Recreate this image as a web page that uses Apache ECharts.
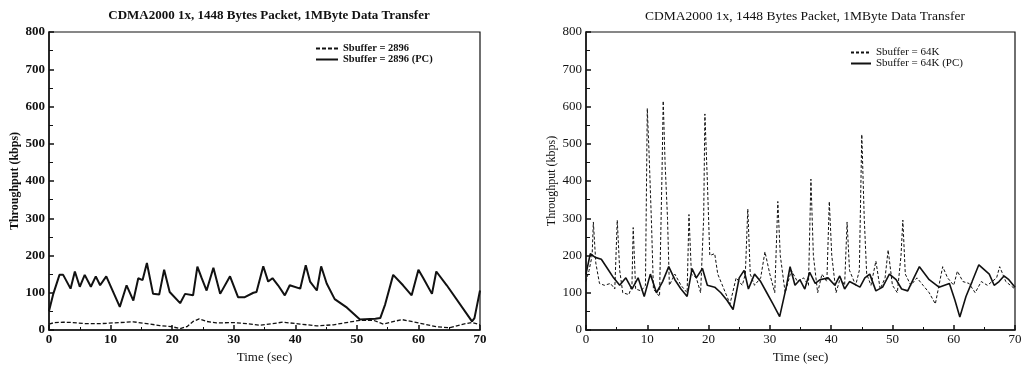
<!DOCTYPE html>
<html>
<head>
<meta charset="utf-8">
<script src="https://cdn.jsdelivr.net/npm/echarts@6/dist/echarts.min.js"></script>
<style>
  html, body { margin: 0; padding: 0; background: #fff; }
  #chart { width: 1028px; height: 369px; }
</style>
</head>
<body>
<div id="chart"></div>
<script>
const TITLE = 'CDMA2000 1x, 1448 Bytes Packet, 1MByte Data Transfer';
const X_NAME = 'Time (sec)';
const Y_NAME = 'Throughput (kbps)';
const LEFT_NAMES = ['Sbuffer = 2896', 'Sbuffer = 2896 (PC)'];
const RIGHT_NAMES = ['Sbuffer = 64K', 'Sbuffer = 64K (PC)'];

// left panel, Sbuffer = 2896 (dotted)
const leftTime = [0, 0.9, 2.3, 3.9, 6.0, 8.3, 10.5, 13.7, 15.9, 18.0, 19.9, 21.3, 22.4, 23.4, 24.4, 25.6, 27.2, 29.9, 32.1, 34.2, 35.3, 38, 40.8, 43.5, 46.2, 50.5, 52.7, 54.3, 57.3, 60, 62.9, 65.1, 67.3, 68.7, 70];
const leftKbps = [16, 20, 21, 20, 17, 17, 19, 22, 17, 12, 9, 4, 9, 23, 30, 23, 19, 20, 17, 13, 15, 21, 16, 11, 14, 26, 26, 16, 28, 19, 9, 6, 16, 20, 14];

// left panel, Sbuffer = 2896 (PC) (solid)
const leftPcTime = [0, 0.7, 1.7, 2.3, 3.5, 4.2, 5.0, 5.8, 6.8, 7.6, 8.3, 9.3, 11.5, 12.6, 13.7, 14.5, 15.2, 15.9, 16.9, 17.9, 18.7, 19.6, 21.3, 22.1, 23.4, 24.1, 24.8, 25.6, 26.7, 27.8, 29.4, 30.7, 31.8, 33.2, 33.7, 34.8, 35.6, 36.3, 37.2, 38.3, 39.1, 40.8, 41.7, 42.4, 43.5, 44.2, 45.1, 46.4, 48.4, 50.5, 53.0, 53.8, 54.6, 55.9, 57.5, 58.9, 60.0, 60.8, 62.2, 62.9, 64.6, 68.7, 69.1, 70];
const leftPcKbps = [51, 97, 148, 148, 111, 157, 116, 148, 116, 144, 120, 144, 62, 120, 79, 139, 134, 180, 97, 95, 162, 102, 72, 97, 93, 170, 139, 106, 167, 97, 144, 88, 88, 100, 102, 171, 130, 139, 120, 93, 120, 111, 174, 130, 106, 171, 125, 83, 60, 28, 30, 32, 69, 148, 120, 93, 162, 139, 97, 157, 120, 23, 32, 106];

// right panel, Sbuffer = 64K (dashed)
const rightTime = [0, 0.5, 1.0, 1.2, 1.6, 2.2, 3, 4, 4.7, 5.1, 5.5, 6, 7, 7.5, 7.7, 8.1, 9, 9.7, 10, 10.3, 10.7, 11, 12, 12.4, 12.6, 12.9, 13.3, 13.6, 14.5, 15.5, 16.5, 16.8, 17.2, 18, 18.7, 19.2, 19.4, 19.8, 20.2, 21, 21.5, 22.5, 23.5, 24.5, 25.5, 26, 26.4, 26.8, 27.5, 28.5, 29.2, 30, 30.8, 31.3, 31.7, 32.5, 33.5, 34.5, 35.5, 36.3, 36.7, 37.1, 37.8, 38.5, 39.3, 39.7, 40.1, 40.8, 41.5, 42.2, 42.6, 43, 44, 44.6, 45, 45.4, 45.8, 46.5, 47.3, 48, 48.8, 49.3, 50, 50.8, 51.4, 51.7, 52.1, 53, 54, 55, 56, 57, 58.2, 59, 60, 60.6, 61.5, 62.5, 63.5, 64.5, 65.5, 67, 67.5, 68.5, 70];
const rightKbps = [130, 160, 200, 290, 180, 125, 120, 125, 110, 295, 160, 100, 95, 120, 275, 110, 105, 120, 595, 470, 280, 110, 90, 420, 615, 450, 300, 120, 150, 120, 100, 310, 150, 140, 100, 300, 580, 400, 200, 205, 150, 110, 70, 140, 120, 150, 325, 150, 120, 140, 210, 150, 100, 345, 200, 100, 160, 130, 140, 120, 405, 200, 100, 150, 130, 345, 200, 100, 140, 120, 290, 160, 120, 160, 525, 300, 150, 120, 185, 110, 140, 215, 120, 100, 200, 295, 150, 120, 140, 120, 100, 70, 170, 140, 120, 158, 130, 125, 100, 130, 120, 140, 170, 130, 110];

// right panel, Sbuffer = 64K (PC) (solid)
const rightPcTime = [0, 0.7, 1.5, 2.5, 3.5, 4.5, 5.5, 6.5, 7.5, 8.5, 9.5, 10.5, 11.5, 12.5, 13.5, 14.5, 15.5, 16.5, 17.3, 18, 19, 19.8, 21, 22, 23, 24, 25, 25.8, 26.5, 27.5, 28.5, 29.5, 30.5, 31.6, 32.7, 33.3, 34.1, 34.9, 35.7, 36.5, 37.4, 38.2, 39.5, 40.6, 41.4, 42.2, 43, 44.7, 45.5, 46.3, 47.3, 48.4, 49.5, 50.6, 51.5, 52.5, 53.5, 54.4, 56, 57.6, 59.3, 60.2, 61, 62, 63, 64.1, 65.8, 66.6, 67.4, 68.2, 69, 70];
const rightPcKbps = [150, 205, 195, 190, 165, 140, 120, 140, 110, 140, 90, 150, 100, 130, 170, 135, 110, 90, 165, 140, 165, 120, 115, 100, 80, 55, 140, 160, 110, 150, 130, 100, 70, 36, 117, 170, 120, 135, 110, 155, 125, 135, 140, 120, 145, 110, 130, 115, 140, 150, 105, 115, 150, 135, 110, 105, 140, 170, 135, 115, 125, 80, 35, 90, 130, 175, 150, 120, 130, 145, 135, 115];

const X_TICKS = { min: 0, max: 70, interval: 10 };
const Y_TICKS = { min: 0, max: 800, interval: 100 };

const zip = (xs, ys) => xs.map((x, i) => [x, ys[i]]);

const SERIF = '"Liberation Serif", "DejaVu Serif", serif';
const INK = '#111';

function xAxisFor(gridIndex, bold) {
  return {
    gridIndex,
    type: 'value',
    ...X_TICKS,
    name: X_NAME,
    nameLocation: 'middle',
    nameGap: 18,
    nameTextStyle: { fontFamily: SERIF, fontSize: 13, color: INK },
    axisLine: { show: true, onZero: false, lineStyle: { color: INK, width: 1.5 } },
    axisTick: { inside: true, length: 5, lineStyle: { color: INK, width: 1.5 } },
    minorTick: { show: true, splitNumber: 2, length: 3, lineStyle: { color: INK } },
    axisLabel: { fontFamily: SERIF, fontSize: 13, fontWeight: bold ? 'bold' : 'normal', color: INK, margin: 3 },
    splitLine: { show: false },
  };
}

function yAxisFor(gridIndex, bold) {
  return {
    gridIndex,
    type: 'value',
    ...Y_TICKS,
    name: Y_NAME,
    nameLocation: 'middle',
    nameGap: 28,
    nameTextStyle: { fontFamily: SERIF, fontSize: 12, fontWeight: bold ? 'bold' : 'normal', color: INK },
    axisLine: { show: true, lineStyle: { color: INK, width: 1.5 } },
    axisTick: { inside: true, length: 5, lineStyle: { color: INK, width: 1.5 } },
    minorTick: { show: true, splitNumber: 2, length: 4, lineStyle: { color: INK } },
    axisLabel: { fontFamily: SERIF, fontSize: 13, fontWeight: bold ? 'bold' : 'normal', color: INK, margin: 4 },
    splitLine: { show: false },
  };
}

function lineSeries(name, idx, data, style) {
  return {
    name,
    type: 'line',
    xAxisIndex: idx,
    yAxisIndex: idx,
    data,
    symbol: 'none',
    silent: true,
    itemStyle: { color: INK },
    lineStyle: { color: INK, ...style },
  };
}

const chart = echarts.init(document.getElementById('chart'), null, { renderer: 'canvas' });
chart.setOption({
  animation: false,
  backgroundColor: '#fff',
  title: [
    { text: TITLE, left: 264, top: 4, textAlign: 'center',
      textStyle: { fontFamily: SERIF, fontSize: 13, fontWeight: 'bold', color: INK } },
    { text: TITLE, left: 800, top: 4, textAlign: 'center',
      textStyle: { fontFamily: SERIF, fontSize: 13.5, fontWeight: 'normal', color: INK } },
  ],
  legend: [
    { data: LEFT_NAMES, left: 310, top: 38, orient: 'vertical', itemGap: 0, itemWidth: 22, itemHeight: 8,
      itemStyle: { opacity: 0 },
      textStyle: { fontFamily: SERIF, fontSize: 10.5, fontWeight: 'bold', color: INK } },
    { data: RIGHT_NAMES, left: 845, top: 42, orient: 'vertical', itemGap: 0, itemWidth: 20, itemHeight: 8,
      itemStyle: { opacity: 0 },
      textStyle: { fontFamily: SERIF, fontSize: 11, color: INK } },
  ],
  grid: [
    { left: 49, top: 32, width: 431, height: 298, show: true, borderColor: INK, borderWidth: 1.2, backgroundColor: 'transparent' },
    { left: 586, top: 32, width: 429, height: 298, show: true, borderColor: INK, borderWidth: 1.2, backgroundColor: 'transparent' },
  ],
  xAxis: [xAxisFor(0, true), xAxisFor(1, false)],
  yAxis: [yAxisFor(0, true), yAxisFor(1, false)],
  series: [
    lineSeries(LEFT_NAMES[0], 0, zip(leftTime, leftKbps), { width: 1.3, type: [4, 2] }),
    lineSeries(LEFT_NAMES[1], 0, zip(leftPcTime, leftPcKbps), { width: 2 }),
    lineSeries(RIGHT_NAMES[0], 1, zip(rightTime, rightKbps), { width: 1, type: [3, 2] }),
    lineSeries(RIGHT_NAMES[1], 1, zip(rightPcTime, rightPcKbps), { width: 1.6 }),
  ],
});
</script>
</body>
</html>
